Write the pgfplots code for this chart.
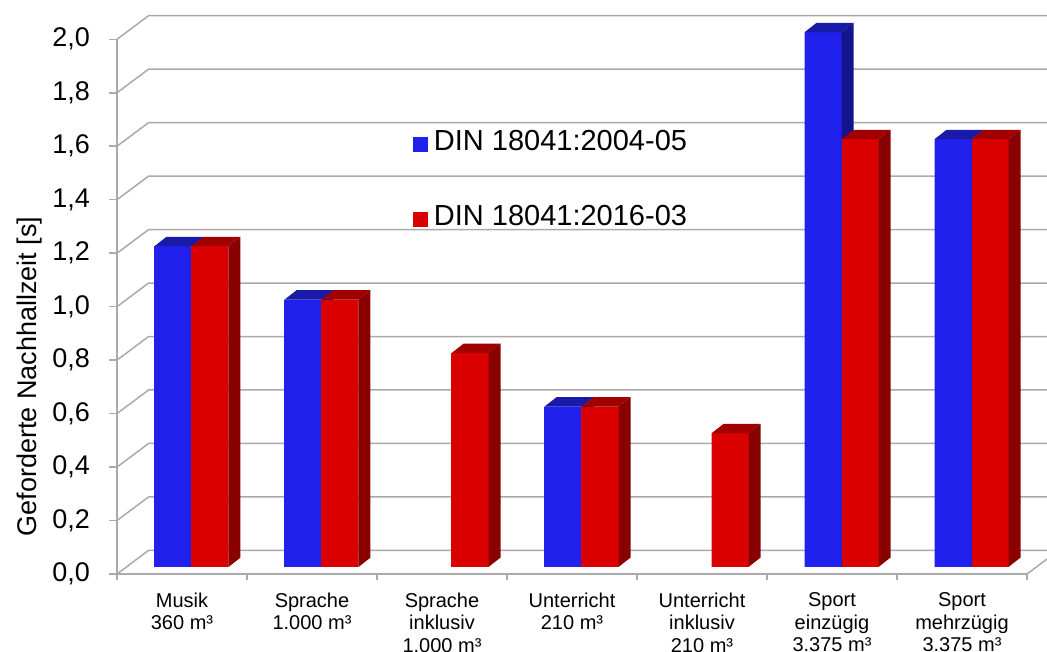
\documentclass[border=0pt]{standalone}
\usepackage{pgfplots}
\pgfplotsset{compat=1.18}
\usepackage{fontspec}
\setmainfont{Liberation Sans}

\definecolor{bfront}{RGB}{33,33,237}
\definecolor{btop}{RGB}{26,26,168}
\definecolor{bside}{RGB}{20,20,140}
\definecolor{rfront}{RGB}{218,0,0}
\definecolor{rtop}{RGB}{160,0,0}
\definecolor{rside}{RGB}{136,0,0}
\definecolor{gridc}{RGB}{170,170,170}

% 3D bar drawn at the data point (top of the bar on the front plane of the axis);
% #1 front colour, #2 top colour, #3 side colour, #4 x offset of bar centre (pt)
\newcommand\barthreed[4]{%
  \pgfmathsetmacro\hb{7-\hv*267.35}%
  \pgfmathsetmacro\hbb{16.4-\hv*267.35}%
  \pgfmathsetmacro\xl{#4-18.5}%
  \pgfmathsetmacro\xr{#4+18.5}%
  \pgfmathsetmacro\xlb{#4-6.5}%
  \pgfmathsetmacro\xrb{#4+30.5}%
  \pgfsetfillcolor{#1}%
  \pgfpathmoveto{\pgfqpoint{\xl pt}{7pt}}%
  \pgfpathlineto{\pgfqpoint{\xr pt}{7pt}}%
  \pgfpathlineto{\pgfqpoint{\xr pt}{\hb pt}}%
  \pgfpathlineto{\pgfqpoint{\xl pt}{\hb pt}}%
  \pgfpathclose\pgfusepath{fill}%
  \pgfsetfillcolor{#2}%
  \pgfpathmoveto{\pgfqpoint{\xl pt}{7pt}}%
  \pgfpathlineto{\pgfqpoint{\xr pt}{7pt}}%
  \pgfpathlineto{\pgfqpoint{\xrb pt}{16.4pt}}%
  \pgfpathlineto{\pgfqpoint{\xlb pt}{16.4pt}}%
  \pgfpathclose\pgfusepath{fill}%
  \pgfsetfillcolor{#3}%
  \pgfpathmoveto{\pgfqpoint{\xr pt}{7pt}}%
  \pgfpathlineto{\pgfqpoint{\xrb pt}{16.4pt}}%
  \pgfpathlineto{\pgfqpoint{\xrb pt}{\hbb pt}}%
  \pgfpathlineto{\pgfqpoint{\xr pt}{\hb pt}}%
  \pgfpathclose\pgfusepath{fill}%
}
\pgfdeclareplotmark{barB}{\barthreed{bfront}{btop}{bside}{-9}}
\pgfdeclareplotmark{barR}{\barthreed{rfront}{rtop}{rside}{28}}

\pgfplotstableread{
x y
0 1.2
1 1.0
3 0.6
5 2.0
6 1.6
}\dataold
\pgfplotstableread{
x y
0 1.2
1 1.0
2 0.8
3 0.6
4 0.5
5 1.6
6 1.6
}\datanew

\begin{document}
\begin{tikzpicture}
\begin{axis}[
  name=ax,
  scale only axis, width=910pt, height=534.7pt,
  xmin=-0.5, xmax=6.5, ymin=0, ymax=2,
  clip=false,
  axis lines*=left,
  axis line style={gridc, line width=1.5pt},
  tick align=outside,
  major tick length=8.4pt, minor tick length=6pt,
  tick style={gridc, line width=1.5pt},
  ytick={0,0.2,0.4,0.6,0.8,1.0,1.2,1.4,1.6,1.8,2.0},
  yticklabel style={/pgf/number format/use comma, /pgf/number format/fixed, /pgf/number format/fixed zerofill, /pgf/number format/precision=1, /pgf/number format/assume math mode=true, font=\fontsize{27}{30}\selectfont, inner sep=0pt, xshift=-18.6pt},
  xtick={0,1,2,3,4,5,6},
  major x tick style={draw=none},
  minor xtick={-0.5,0.5,1.5,2.5,3.5,4.5,5.5,6.5},
  xticklabels={{Musik\\360 m³},{Sprache\\1.000 m³},{Sprache\\inklusiv\\1.000 m³},{Unterricht\\210 m³},{Unterricht\\inklusiv\\210 m³},{Sport\\einzügig\\3.375 m³},{Sport\\mehrzügig\\3.375 m³}},
  xticklabel style={align=center, font=\fontsize{20}{22.5}\selectfont, inner sep=0pt, yshift=-10pt},
  ylabel={Geforderte Nachhallzeit [s]},
  every axis y label/.style={at={(axis description cs:-0.089,0.369)}, rotate=90, anchor=base, font=\fontsize{27}{30}\selectfont},
  legend style={at={(axis description cs:0.325,0.834)}, anchor=north west, draw=none, fill=none, font=\fontsize{29}{32}\selectfont, row sep=49pt, inner sep=0pt, column sep=4pt},
  legend cell align=left,
]
\pgfplotsinvokeforeach{0,0.2,0.4,0.6,0.8,1.0,1.2,1.4,1.6,1.8,2.0}{
  \draw[gridc, line width=1.5pt] (axis cs:-0.5,#1) -- ++(31.6pt,23.6pt) -- ([shift={(31.6pt,23.6pt)}]axis cs:6.5,#1);
}
\draw[gridc, line width=1.5pt] (axis cs:6.5,0) -- ++(31.6pt,23.6pt);

\addplot[ybar, bar width=37pt, bar shift=-9pt, fill=bfront, draw=none, yshift=7pt,
  legend image code/.code={\fill[bfront] (0pt,-17.8pt) rectangle (15pt,-2.8pt);}]
  table[x=x,y=y] {\dataold};
\addlegendentry{DIN 18041:2004-05}
\addplot[ybar, bar width=37pt, bar shift=28pt, fill=rfront, draw=none, yshift=7pt,
  legend image code/.code={\fill[rfront] (0pt,-17.8pt) rectangle (15pt,-2.8pt);}]
  table[x=x,y=y] {\datanew};
\addlegendentry{DIN 18041:2016-03}
\addplot[forget plot, only marks, mark=barB, visualization depends on={rawy \as \hv}]
  table[x=x,y=y] {\dataold};
\addplot[forget plot, only marks, mark=barR, visualization depends on={rawy \as \hv}]
  table[x=x,y=y] {\datanew};
\end{axis}
\pgfresetboundingbox
\path ([shift={(-117pt,574pt)}]ax.south west) rectangle ([shift={(930pt,-78pt)}]ax.south west);
\end{tikzpicture}
\end{document}
